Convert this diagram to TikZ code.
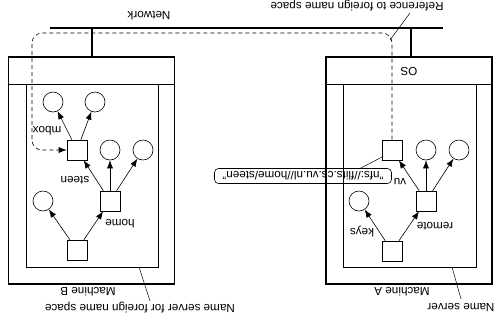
\documentclass[tikz,border=0pt]{standalone}
\usepackage{fontspec}
\setmainfont{Liberation Sans}
\usetikzlibrary{arrows.meta}

\begin{document}
\begin{tikzpicture}[
  x=1pt,y=-1pt,
  txt/.style={rotate=180,inner sep=0pt,font=\fontsize{11.7}{14}\selectfont},
  dirnode/.style={rectangle,draw,line width=0.6pt,minimum size=20pt,inner sep=0pt},
  filenode/.style={circle,draw,line width=0.6pt,minimum size=20pt,inner sep=0pt},
  machine/.style={rectangle,draw,line width=1.4pt,minimum width=166pt,minimum height=227pt,inner sep=0pt},
  arrow/.style={-{Latex[length=8pt,width=6pt]},line width=0.6pt},
  leader/.style={line width=0.5pt}
]
\useasboundingbox (0,0) rectangle (502,330);

% network and the two machines
\coordinate (netL) at (50,28);
\coordinate (netR) at (443,28);
\draw[line width=2pt] (netL) -- (netR);
\node[txt] (net) at (149,16) {Network};

\node[machine] (machB) at (91.5,170.5) {};
\node[machine] (machA) at (409,170.5) {};
\draw[line width=2pt] (machB.north) -- (machB.north |- netL);
\draw[line width=2pt] (machA.north -| 411,0) -- (netL -| 411,0);
\draw[line width=0.7pt] (machB.west |- 0,84) -- (machB.east |- 0,84);
\draw[line width=0.7pt] (machA.west |- 0,84) -- (machA.east |- 0,84);
\draw[line width=0.7pt] (26,84) rectangle (158,267);
\draw[line width=0.7pt] (343,84) rectangle (476,267);
\node[txt] (os) at (409,72) {OS};

\node[txt] (labB) at (88,292) {Machine B};
\node[txt] (labA) at (402,292) {Machine A};
\node[txt] (nsB) at (140,308) {Name server for foreign name space};
\node[txt] (nsA) at (461,307) {Name server};
\draw[leader] (139,267) -- (150,301);
\draw[leader] (452,267) -- (461,299);

% name space of machine B
\node[dirnode] (rootB) at (77,250) {};
\node[filenode] (fB1) at (43,201) {};
\node[dirnode] (homeB) at (110,201) {};
\node[dirnode] (steenB) at (77,150) {};
\node[filenode] (fB2) at (110,150) {};
\node[filenode] (fB3) at (143,150) {};
\node[filenode] (fB4) at (53,102) {};
\node[filenode] (fB5) at (95,102) {};
\draw[arrow] (rootB) -- (fB1);
\draw[arrow] (rootB) -- (homeB);
\draw[arrow] (homeB) -- (steenB);
\draw[arrow] (homeB) -- (fB2);
\draw[arrow] (homeB) -- (fB3);
\draw[arrow] (steenB) -- (fB4);
\draw[arrow] (steenB) -- (fB5);
\node[txt] (homeLab) at (120,224) {home};
\node[txt] (steenLab) at (75,180) {steen};
\node[txt] (mboxLab) at (47,131) {mbox};

% name space of machine A
\node[dirnode] (rootA) at (392,251) {};
\node[filenode] (keysA) at (359,201) {};
\node[dirnode] (remoteA) at (426,201) {};
\node[dirnode] (vuA) at (392,150) {};
\node[filenode] (fA1) at (426,150) {};
\node[filenode] (fA2) at (459,150) {};
\draw[arrow] (rootA) -- (keysA);
\draw[arrow] (rootA) -- (remoteA);
\draw[arrow] (remoteA) -- (vuA);
\draw[arrow] (remoteA) -- (fA1);
\draw[arrow] (remoteA) -- (fA2);
\node[txt] (keysLab) at (362,232) {keys};
\node[txt] (remoteLab) at (435,226) {remote};
\node[txt] (vuLab) at (400,182) {vu};

% reference to the foreign name space
\node[txt,draw,line width=0.6pt,rounded corners=4pt,minimum width=177pt,minimum height=15pt] (nfs) at (303,176) {"nfs://flits.cs.vu.nl//home/steen"};
\draw[leader] (360,168.5) -- (382,157);
\coordinate (bend) at (32,33);
\draw[arrow,dash pattern=on 4pt off 3pt,rounded corners=10pt] (vuA.north) |- (bend) |- (steenB.west);
\node[txt] (ref) at (357,6) {Reference to foreign name space};
\draw[leader] (410,13) -- (390,40);
\end{tikzpicture}
\end{document}
